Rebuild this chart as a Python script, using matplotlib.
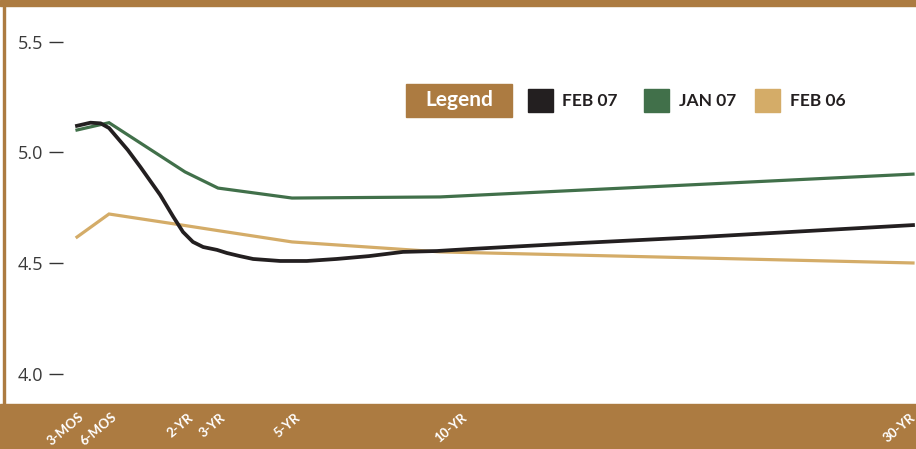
import numpy as np
import matplotlib
matplotlib.use('Agg')
import matplotlib.pyplot as plt
from matplotlib.patches import Rectangle

# maturities (years) and yields (%)
tick_years = [0.25, 0.5, 2, 3, 5, 10, 30]
tick_labels = ['3-MOS', '6-MOS', '2-YR', '3-YR', '5-YR', '10-YR', '30-YR']

feb07_years = [0.25, 0.355, 0.435, 0.5, 0.87, 1.12, 1.51, 1.77, 1.96, 2.24, 2.55, 2.97,
               3.24, 3.59, 3.95, 4.68, 5.5, 6.5, 7.6, 8.75, 9.9, 11.27, 15.9, 21.0, 30]
feb07 = [5.120, 5.134, 5.131, 5.110, 5.011, 4.934, 4.808, 4.709, 4.641, 4.596, 4.573, 4.560,
         4.546, 4.532, 4.519, 4.510, 4.510, 4.519, 4.532, 4.551, 4.555, 4.564, 4.591, 4.618, 4.672]

jan07 = [5.101, 5.134, 4.912, 4.839, 4.794, 4.799, 4.902]
feb06 = [4.618, 4.722, 4.670, 4.647, 4.596, 4.551, 4.501]

series_names = ['FEB 07', 'JAN 07', 'FEB 06']
colors = ['#231F20', '#41704A', '#D4AC68']
brown = '#AC7B41'

# uneven spacing of the maturity axis (pixel positions of the original layout)
anchor_years = [0, 0.25, 0.5, 2, 3, 5, 10, 30, 40]
anchor_pos = [46, 77, 109, 185, 218, 292, 440, 913, 1149]
label_dx = [1, 2, 3, 2, 3, 21, -3]


def fwd(y):
    return np.interp(y, anchor_years, anchor_pos)


def inv(p):
    return np.interp(p, anchor_pos, anchor_years)


W, H = 916, 449
fig = plt.figure(figsize=(W / 100, H / 100), dpi=100)


def fx(px):
    return px / W


def fy(py):
    return 1 - py / H


# frame: top strip, left rule, bottom band
fig.patches.append(Rectangle((0, fy(6)), 1, 6 / H, transform=fig.transFigure,
                             color=brown, zorder=0))
fig.patches.append(Rectangle((fx(3), fy(404)), 1.6 / W, 404 / H, transform=fig.transFigure,
                             color=brown, zorder=0))
fig.patches.append(Rectangle((0, 0), 1, 45 / H, transform=fig.transFigure,
                             color=brown, zorder=0))

ax = fig.add_axes([fx(63), fy(404), fx(916 - 63), 404 / H])
ax.set_zorder(3)
ax.patch.set_alpha(0)
ax.set_xscale('function', functions=(fwd, inv))

ax.plot(tick_years, feb06, color=colors[2], lw=2.3, zorder=2, solid_joinstyle='miter')
ax.plot(tick_years, jan07, color=colors[1], lw=2.3, zorder=3, solid_joinstyle='miter')
ax.plot(feb07_years, feb07, color=colors[0], lw=2.7, zorder=4)

ax.set_xlim(inv(63), inv(916))
ax.set_ylim(3.8646, 5.6877)

for s in ax.spines.values():
    s.set_visible(False)

ax.set_yticks([4.0, 4.5, 5.0, 5.5])
ax.set_yticklabels(['4.0', '4.5', '5.0', '5.5'], fontfamily='Open Sans', fontsize=13, color='#3a3a3a')
ax.tick_params(axis='y', length=10, width=1.0, color='#333333', pad=4)

ax.set_xticks([])
ax.minorticks_off()
for yr, lab, dx in zip(tick_years, tick_labels, label_dx):
    ax.annotate(lab, xy=(yr, 0), xycoords=('data', 'axes fraction'),
                xytext=(dx, -7), textcoords='offset pixels',
                rotation=40, rotation_mode='anchor', ha='right', va='top',
                color='white', fontfamily='Lato', fontweight='bold', fontsize=9.5,
                annotation_clip=False, zorder=10)

# legend
fig.patches.append(Rectangle((fx(406), fy(117)), fx(106), 33 / H, transform=fig.transFigure,
                             color=brown, zorder=5))
fig.text(fx(459), fy(100.5), 'Legend', color='white', fontfamily='Lato', fontweight='bold',
         fontsize=15, ha='center', va='center', zorder=6)
sw_left = [528, 644, 755]
txt_left = [562, 679, 790]
for name, c, sx, tx in zip(series_names, colors, sw_left, txt_left):
    fig.patches.append(Rectangle((fx(sx), fy(112)), fx(25), 23 / H, transform=fig.transFigure,
                                 color=c, zorder=5))
    fig.text(fx(tx), fy(101), name, color='#231F20', fontfamily='Lato', fontweight='bold',
             fontsize=12.5, ha='left', va='center', zorder=6)

fig.savefig('out.png', dpi=100)
